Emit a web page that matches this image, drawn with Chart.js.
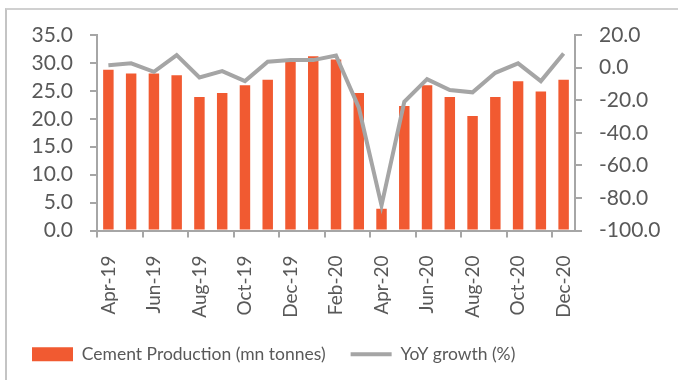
<!DOCTYPE html>
<html>
<head>
<meta charset="utf-8">
<script src="https://cdn.jsdelivr.net/npm/chart.js@4"></script>
<style>
    html, body { margin: 0; padding: 0; background: #fff; }
    #wrap { position: relative; width: 678px; height: 380px; overflow: hidden; }
    #frame {
        position: absolute; left: 5px; top: 8px; width: 700px; height: 400px;
        border-left: 2px solid #c4c4c4; border-top: 2px solid #d0d0d0;
    }
    canvas { position: absolute; left: 0; top: 0; }
</style>
</head>
<body>
<div id="wrap">
    <div id="frame"></div>
    <canvas id="chart" width="678" height="380"></canvas>
</div>
<script>
// Monthly data, Apr-19 .. Dec-20
const months = [
    'Apr-19', 'May-19', 'Jun-19', 'Jul-19', 'Aug-19', 'Sep-19', 'Oct-19',
    'Nov-19', 'Dec-19', 'Jan-20', 'Feb-20', 'Mar-20', 'Apr-20', 'May-20',
    'Jun-20', 'Jul-20', 'Aug-20', 'Sep-20', 'Oct-20', 'Nov-20', 'Dec-20'
];
const cementProduction = [
    28.8, 28.1, 28.1, 27.8, 23.9, 24.6, 26.0, 27.0, 30.4, 31.2, 30.6,
    24.6, 3.9, 22.3, 26.0, 23.9, 20.5, 23.9, 26.7, 24.9, 27.0
];
const yoyGrowth = [
    1.5, 2.6, -2.6, 7.7, -6.1, -2.2, -8.3, 3.6, 4.6, 4.6, 7.4,
    -24.5, -84.6, -21.0, -7.1, -13.8, -15.2, -3.2, 2.6, -8.3, 8.7
];
const leftTicks = [0, 5, 10, 15, 20, 25, 30, 35];
const rightTicks = [-100, -80, -60, -40, -20, 0, 20];

const textColor = '#595959';
const axisColor = '#a6a6a6';
const fontFamily = 'Lato, "Open Sans", sans-serif';

new Chart(document.getElementById('chart'), {
    data: {
        labels: months,
        datasets: [
            {
                type: 'bar',
                label: 'Cement Production (mn tonnes)',
                data: cementProduction,
                backgroundColor: '#f15a31',
                yAxisID: 'y',
                order: 2,
                categoryPercentage: 1,
                barPercentage: 0.46,
                pointStyle: 'rect'
            },
            {
                type: 'line',
                label: 'YoY growth (%)',
                data: yoyGrowth,
                borderColor: '#a5a5a5',
                borderWidth: 4,
                pointRadius: 0,
                pointStyle: 'line',
                pointBorderWidth: 4,
                pointBorderColor: '#a5a5a5',
                yAxisID: 'y1',
                order: 1,
                tension: 0
            }
        ]
    },
    options: {
        responsive: false,
        animation: false,
        layout: { padding: { top: 35, left: 7, right: 0, bottom: 7 } },
        plugins: {
            tooltip: { enabled: false },
            legend: {
                position: 'bottom',
                align: 'start',
                labels: {
                    usePointStyle: true,
                    pointStyleWidth: 41,
                    boxHeight: 14,
                    padding: 25,
                    color: textColor,
                    font: { family: fontFamily, size: 17.5 },
                    sort: (a, b) => a.datasetIndex - b.datasetIndex
                }
            }
        },
        scales: {
            x: {
                offset: true,
                grid: {
                    offset: true,
                    drawOnChartArea: false,
                    tickLength: 7,
                    color: ctx => ctx.index % 2 === 0 ? axisColor : 'rgba(0,0,0,0)',
                    lineWidth: 2
                },
                border: { color: axisColor, width: 2 },
                ticks: {
                    autoSkip: false,
                    minRotation: 90,
                    maxRotation: 90,
                    padding: 18,
                    color: textColor,
                    font: { family: fontFamily, size: 19 },
                    callback: (v, i) => i % 2 === 0 ? months[i] : ''
                },
                afterFit: scale => { scale.height = 90; }
            },
            y: {
                position: 'left',
                min: 0,
                max: 35,
                afterBuildTicks: scale => { scale.ticks = leftTicks.map(v => ({ value: v })); },
                grid: { drawOnChartArea: false, tickLength: 7, color: axisColor, lineWidth: 2 },
                border: { color: axisColor, width: 2 },
                ticks: {
                    autoSkip: false,
                    padding: 17,
                    color: textColor,
                    font: { family: fontFamily, size: 21 },
                    callback: v => v.toFixed(1)
                },
                afterFit: scale => { scale.width = 90; }
            },
            y1: {
                position: 'right',
                min: -100,
                max: 20,
                afterBuildTicks: scale => { scale.ticks = rightTicks.map(v => ({ value: v })); },
                grid: { drawOnChartArea: false, tickLength: 7, color: axisColor, lineWidth: 2 },
                border: { color: axisColor, width: 2 },
                ticks: {
                    autoSkip: false,
                    padding: 17,
                    color: textColor,
                    font: { family: fontFamily, size: 21 },
                    callback: v => v.toFixed(1)
                },
                afterFit: scale => { scale.width = 103; }
            }
        }
    }
});
</script>
</body>
</html>
